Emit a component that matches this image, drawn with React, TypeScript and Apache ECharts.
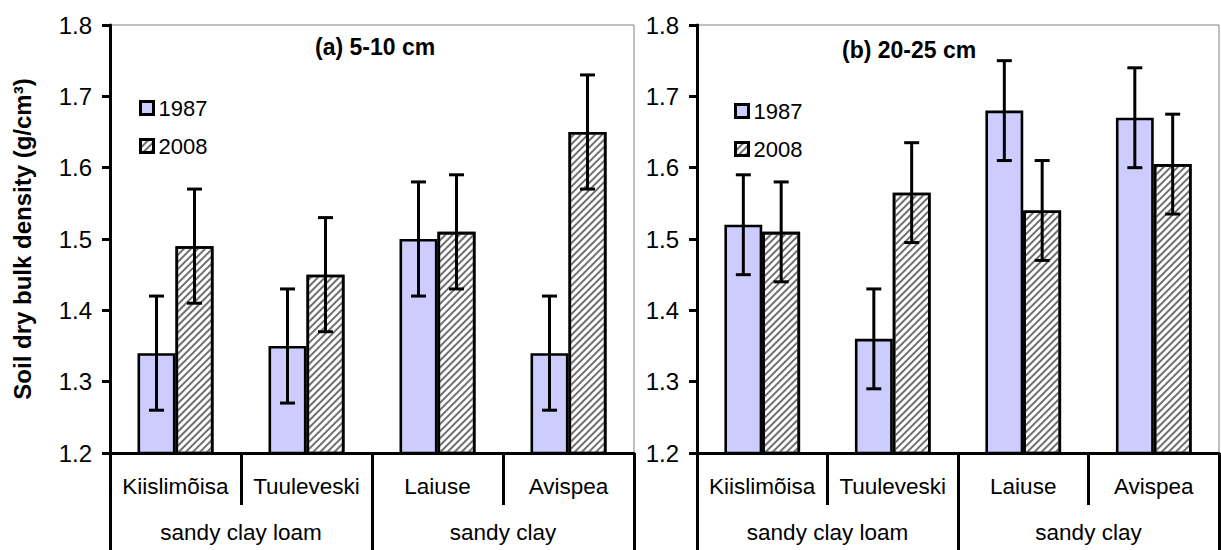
import React, { useEffect, useRef } from "react";
import * as echarts from "echarts";

const categories = ["Kiislimõisa", "Tuuleveski", "Laiuse", "Avispea"];
const soilGroups = ["sandy clay loam", "sandy clay"];
const seriesNames = ["1987", "2008"];
const panelTitles = ["(a) 5-10 cm", "(b) 20-25 cm"];
const yAxisTitle = "Soil dry bulk density (g/cm³)";

// (a) 5-10 cm
const a1987 = [1.34, 1.35, 1.5, 1.34];
const a1987Err = [0.08, 0.08, 0.08, 0.08];
const a2008 = [1.49, 1.45, 1.51, 1.65];
const a2008Err = [0.08, 0.08, 0.08, 0.08];
// (b) 20-25 cm
const b1987 = [1.52, 1.36, 1.68, 1.67];
const b1987Err = [0.07, 0.07, 0.07, 0.07];
const b2008 = [1.51, 1.565, 1.54, 1.605];
const b2008Err = [0.07, 0.07, 0.07, 0.07];

const yMin = 1.2;
const yMax = 1.8;
const yStep = 0.1;

const FONT = '"Liberation Sans", Arial, Helvetica, sans-serif';
const BAR_FRAC = 0.29;
const BLUE = "#ccccff";

const hatchDecal = {
  symbol: "rect",
  symbolSize: 1,
  color: "#707070",
  dashArrayX: [1, 0],
  dashArrayY: [1.1, 2.5],
  rotation: -Math.PI / 4,
};

function bar(name: string, values: number[], gi: number, hatch: boolean) {
  const itemStyle: any = {
    color: hatch ? "#ffffff" : BLUE,
    borderColor: "#000",
    borderWidth: 2.6,
  };
  if (hatch) itemStyle.decal = hatchDecal;
  return {
    type: "bar",
    name,
    xAxisIndex: gi * 2,
    yAxisIndex: gi,
    data: values,
    barWidth: BAR_FRAC * 100 + "%",
    barGap: "0%",
    z: 2,
    itemStyle,
  };
}

function errBars(values: number[], errs: number[], gi: number, sign: number) {
  return {
    type: "custom",
    xAxisIndex: gi * 2,
    yAxisIndex: gi,
    z: 5,
    silent: true,
    data: values.map((v, i) => [i, v - errs[i], v + errs[i]]),
    renderItem: (params: any, api: any) => {
      const lo = api.coord([api.value(0), api.value(1)]);
      const hi = api.coord([api.value(0), api.value(2)]);
      const band = api.size([1, 0])[0];
      const x = lo[0] + (sign * band * BAR_FRAC) / 2;
      const cap = 7.5;
      const st = { stroke: "#000", lineWidth: 3 };
      return {
        type: "group",
        children: [
          { type: "line", shape: { x1: x, y1: lo[1], x2: x, y2: hi[1] }, style: st },
          { type: "line", shape: { x1: x - cap, y1: hi[1], x2: x + cap, y2: hi[1] }, style: st },
          { type: "line", shape: { x1: x - cap, y1: lo[1], x2: x + cap, y2: lo[1] }, style: st },
        ],
      };
    },
  };
}

function xAxes(gi: number) {
  return [
    {
      type: "category",
      gridIndex: gi,
      data: categories,
      position: "bottom",
      axisLine: { show: true, lineStyle: { color: "#000", width: 3 } },
      axisTick: { show: true, interval: 0, length: 52, lineStyle: { color: "#000", width: 3 } },
      axisLabel: { interval: 0, margin: 22, color: "#000", fontSize: 22.5, fontFamily: FONT },
    },
    {
      type: "category",
      gridIndex: gi,
      data: soilGroups,
      position: "bottom",
      axisLine: { show: false },
      axisTick: { show: true, interval: 0, length: 100, lineStyle: { color: "#000", width: 3 } },
      axisLabel: { interval: 0, margin: 68, color: "#000", fontSize: 22.5, fontFamily: FONT },
    },
  ];
}

function yAxis(gi: number) {
  return {
    type: "value",
    gridIndex: gi,
    min: yMin,
    max: yMax,
    interval: yStep,
    splitLine: { show: false },
    axisLine: { show: true, lineStyle: { color: "#000", width: 3 } },
    axisTick: { show: true, length: 8, lineStyle: { color: "#000", width: 3 } },
    axisLabel: {
      margin: 18,
      color: "#000",
      fontSize: 24,
      fontFamily: FONT,
      formatter: (v: number) => v.toFixed(1),
    },
    name: gi === 0 ? yAxisTitle : "",
    nameLocation: "middle",
    nameRotate: 90,
    nameGap: 76,
    nameTextStyle: { color: "#000", fontSize: 24, fontWeight: "bold", fontFamily: FONT },
  };
}

function legend(left: number, top: number) {
  return {
    orient: "vertical",
    left,
    top,
    icon: "rect",
    itemWidth: 13,
    itemHeight: 13,
    itemGap: 16,
    data: seriesNames,
    selectedMode: false,
    textStyle: { color: "#000", fontSize: 22, fontFamily: FONT, lineHeight: 22, padding: [0, 0, 0, 0] },
    itemStyle: { borderColor: "#000", borderWidth: 3 },
  };
}

export default function App() {
  const ref = useRef<HTMLDivElement>(null);
  useEffect(() => {
    if (!ref.current) return;
    const chart = echarts.init(ref.current, undefined, { renderer: "svg" });
    chart.setOption({
      animation: false,
      backgroundColor: "#ffffff",
      textStyle: { fontFamily: FONT },
      title: [
        {
          text: panelTitles[0],
          left: 310,
          top: 30,
          textStyle: { color: "#000", fontSize: 23, fontWeight: "bold", fontFamily: FONT },
        },
        {
          text: panelTitles[1],
          left: 837,
          top: 33,
          textStyle: { color: "#000", fontSize: 23, fontWeight: "bold", fontFamily: FONT },
        },
      ],
      legend: [legend(134, 92), legend(729, 95)],
      grid: [
        { left: 110, right: 587, top: 25, bottom: 97, show: true, borderColor: "#808080", borderWidth: 1 },
        { left: 697, right: 2, top: 25, bottom: 97, show: true, borderColor: "#808080", borderWidth: 1 },
      ],
      xAxis: [...xAxes(0), ...xAxes(1)],
      yAxis: [yAxis(0), yAxis(1)],
      series: [
        bar(seriesNames[0], a1987, 0, false),
        bar(seriesNames[1], a2008, 0, true),
        errBars(a1987, a1987Err, 0, -1),
        errBars(a2008, a2008Err, 0, 1),
        bar(seriesNames[0], b1987, 1, false),
        bar(seriesNames[1], b2008, 1, true),
        errBars(b1987, b1987Err, 1, -1),
        errBars(b2008, b2008Err, 1, 1),
      ],
    });
    return () => chart.dispose();
  }, []);
  return (
    <div
      ref={ref}
      style={{ position: "fixed", left: 0, top: 0, width: 1221, height: 550, background: "#fff" }}
    />
  );
}
